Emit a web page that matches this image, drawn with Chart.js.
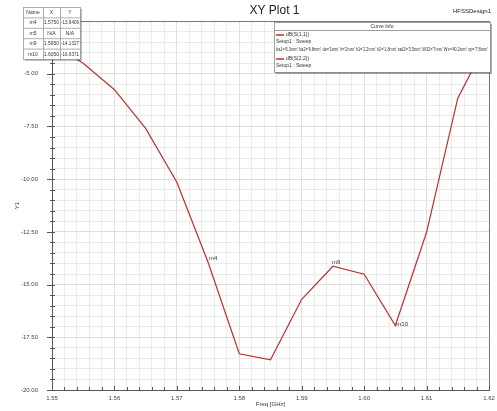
<!DOCTYPE html>
<html>
<head>
<meta charset="utf-8">
<script src="https://cdn.jsdelivr.net/npm/chart.js@4.4.1/dist/chart.umd.min.js"></script>
<style>
html,body{margin:0;padding:0;background:#fff;}
canvas{display:block;}
</style>
</head>
<body>
<canvas id="c" width="497" height="411"></canvas>
<script>
// ---- data ----
const freq = [1.550, 1.555, 1.560, 1.565, 1.570, 1.575, 1.580, 1.585, 1.590, 1.595, 1.600, 1.605, 1.610, 1.615, 1.620];
const s11 = [-3.6, -4.5, -5.76, -7.59, -10.15, -13.94, -18.28, -18.57, -15.70, -14.13, -14.51, -16.94, -12.52, -6.16, -3.3];
const xTickLabels = ['1.55','1.56','1.57','1.58','1.59','1.60','1.61','1.62'];
const yTickLabels = ['-20.00','-17.50','-15.00','-12.50','-10.00','-7.50','-5.00','-2.50'];
const markerNames = ['m4','m5','m9','m10'];
const markerXText = ['1.5750','N/A','1.5950','1.6050'];
const markerYText = ['-13.9406','N/A','-14.1327','-16.9371'];
const markerFreq = [1.575, null, 1.595, 1.605];
const markerVal = [-13.9406, null, -14.1327, -16.9371];
const curveNames = ['dB(S(1,1))','dB(S(2,2))'];
const setupText = 'Setup1 : Sweep';
const paramText = "ba1='6.3mm' ba2='6.8mm' da='1mm' h='2mm' h1='2.2mm' h2='1.8mm' rad2='3.5mm' W32='7mm' Wx='40.2mm' xp='7.8mm'";

const FONT = "'Liberation Sans Narrow','Arial Narrow','Liberation Sans',sans-serif";
const LINE = '#b8322f';

const isMajorX = v => { const k = (v - 1.55) / 0.01; return Math.abs(k - Math.round(k)) < 1e-4; };
const isMajorY = v => { const k = (v + 20) / 2.5; return Math.abs(k - Math.round(k)) < 1e-4; };

const overlay = {
  id: 'overlay',
  afterDraw(chart) {
    const ctx = chart.ctx, a = chart.chartArea;
    const xs = chart.scales.x, ys = chart.scales.y;
    ctx.save();
    // plot frame top/right
    ctx.strokeStyle = '#777'; ctx.lineWidth = 1;
    ctx.beginPath();
    ctx.moveTo(a.left, Math.round(a.top) + 0.5); ctx.lineTo(a.right, Math.round(a.top) + 0.5);
    ctx.moveTo(Math.round(a.right) + 0.5, a.top); ctx.lineTo(Math.round(a.right) + 0.5, a.bottom);
    ctx.stroke();

    // tick marks
    ctx.strokeStyle = '#555'; ctx.lineWidth = 1;
    ctx.beginPath();
    xs.ticks.forEach(t => {
      const px = Math.round(xs.getPixelForValue(t.value)) + 0.5;
      const len = isMajorX(t.value) ? 4 : 3;
      ctx.moveTo(px, a.bottom); ctx.lineTo(px, a.bottom - len);
    });
    ys.ticks.forEach(t => {
      const py = Math.round(ys.getPixelForValue(t.value)) + 0.5;
      if (isMajorY(t.value)) { ctx.moveTo(a.left - 5, py); ctx.lineTo(a.left + 3, py); }
      else { ctx.moveTo(a.left - 2, py); ctx.lineTo(a.left + 3, py); }
    });
    ctx.stroke();

    // titles
    ctx.fillStyle = '#222';
    ctx.font = '12px ' + FONT;
    ctx.textAlign = 'center'; ctx.textBaseline = 'middle';
    ctx.fillText('XY Plot 1', (a.left + a.right) / 2 + 4, 11);
    ctx.font = '6px ' + FONT;
    ctx.textAlign = 'right';
    ctx.fillText('HFSSDesign1', 491, 11);

    // marker labels
    ctx.font = '6px ' + FONT;
    ctx.fillStyle = '#333';
    markerNames.forEach((n, i) => {
      if (markerFreq[i] === null) return;
      const px = xs.getPixelForValue(markerFreq[i]);
      const py = ys.getPixelForValue(markerVal[i]);
      ctx.textAlign = 'left'; ctx.textBaseline = 'middle';
      if (n === 'm9') ctx.fillText(n, px - 1, py - 4);
      else if (n === 'm10') ctx.fillText(n, px + 1, py - 1);
      else ctx.fillText(n, px + 1, py - 4);
    });

    // marker table
    const tx = 23, ty = 7, tw = 57, rh = 10.4;
    const cols = [23, 43, 60, 80];
    const rows = markerNames.length + 1;
    ctx.fillStyle = 'rgba(0,0,0,0.25)';
    ctx.fillRect(tx + 2, ty + 2, tw, rows * rh);
    ctx.fillStyle = '#fff';
    ctx.fillRect(tx, ty, tw, rows * rh);
    ctx.strokeStyle = '#999'; ctx.lineWidth = 0.8;
    ctx.strokeRect(tx + 0.5, ty + 0.5, tw, rows * rh);
    ctx.beginPath();
    for (let r = 1; r < rows; r++) { ctx.moveTo(tx, ty + r * rh + 0.5); ctx.lineTo(tx + tw, ty + r * rh + 0.5); }
    for (let c = 1; c < 3; c++) { ctx.moveTo(cols[c] + 0.5, ty); ctx.lineTo(cols[c] + 0.5, ty + rows * rh); }
    ctx.stroke();
    ctx.fillStyle = '#333'; ctx.font = '5px ' + FONT; ctx.textAlign = 'center'; ctx.textBaseline = 'middle';
    const hdr = ['Name', 'X', 'Y'];
    hdr.forEach((h, c) => ctx.fillText(h, (cols[c] + cols[c + 1]) / 2, ty + rh / 2 + 0.5));
    markerNames.forEach((n, i) => {
      const cy = ty + (i + 1) * rh + rh / 2 + 0.5;
      ctx.fillText(n, (cols[0] + cols[1]) / 2, cy);
      ctx.fillText(markerXText[i], (cols[1] + cols[2]) / 2, cy, 16);
      ctx.fillText(markerYText[i], (cols[2] + cols[3]) / 2, cy, 18);
    });

    // curve info box
    const bx = 274, by = 22, bw = 216, bh = 50;
    ctx.fillStyle = 'rgba(0,0,0,0.3)';
    ctx.fillRect(bx + 2, by + 2, bw, bh);
    ctx.fillStyle = '#fff';
    ctx.fillRect(bx, by, bw, bh);
    ctx.strokeStyle = '#888'; ctx.lineWidth = 0.8;
    ctx.strokeRect(bx + 0.5, by + 0.5, bw, bh);
    ctx.beginPath(); ctx.moveTo(bx, by + 8.5); ctx.lineTo(bx + bw, by + 8.5); ctx.stroke();
    ctx.fillStyle = '#333'; ctx.font = '5px ' + FONT; ctx.textAlign = 'center';
    ctx.fillText('Curve Info', bx + bw / 2, by + 4.5);
    ctx.textAlign = 'left';
    const drawEntry = (name, y0) => {
      ctx.strokeStyle = LINE; ctx.lineWidth = 1.5;
      ctx.beginPath(); ctx.moveTo(bx + 2, y0); ctx.lineTo(bx + 10, y0); ctx.stroke();
      ctx.fillStyle = '#333';
      ctx.fillText(name, bx + 12, y0);
      ctx.fillText(setupText, bx + 2, y0 + 7);
    };
    drawEntry(curveNames[0], by + 13);
    ctx.fillText(paramText, bx + 2, by + 28, bw - 4);
    drawEntry(curveNames[1], by + 37);
    ctx.restore();
  }
};

new Chart(document.getElementById('c'), {
  type: 'line',
  data: {
    datasets: [{
      label: curveNames[0],
      data: freq.map((f, i) => ({ x: f, y: s11[i] })),
      borderColor: LINE,
      borderWidth: 1.2,
      pointRadius: 0,
      tension: 0,
      fill: false
    }]
  },
  options: {
    responsive: false,
    animation: false,
    devicePixelRatio: 1,
    layout: { padding: { top: 21, right: 8, left: 0, bottom: 0 } },
    plugins: { legend: { display: false }, tooltip: { enabled: false }, title: { display: false } },
    scales: {
      x: {
        type: 'linear', min: 1.55, max: 1.62,
        afterFit: s => { s.height = 21; s.paddingRight = 0; s.paddingLeft = 0; },
        ticks: {
          stepSize: 0.002, maxTicksLimit: 100, autoSkip: false, maxRotation: 0, minRotation: 0,
          padding: 5, color: '#444', font: { size: 6, family: FONT },
          callback: v => isMajorX(v) ? xTickLabels[Math.round((v - 1.55) / 0.01)] : ''
        },
        grid: { color: c => (c.tick && isMajorX(c.tick.value)) ? '#d6d6d6' : '#e6e6e6', lineWidth: 0.8, drawTicks: false },
        border: { color: '#555', width: 1 },
        title: { display: true, text: 'Freq [GHz]', color: '#333', font: { size: 6, family: FONT }, padding: { top: 0, bottom: 3 } }
      },
      y: {
        type: 'linear', min: -20, max: -2.5,
        afterFit: s => { s.width = 52; s.paddingTop = 0; s.paddingBottom = 0; },
        ticks: {
          stepSize: 0.5, maxTicksLimit: 100, autoSkip: false,
          padding: 14, color: '#444', font: { size: 6, family: FONT },
          callback: v => isMajorY(v) ? yTickLabels[Math.round((v + 20) / 2.5)] : ''
        },
        grid: { color: c => (c.tick && isMajorY(c.tick.value)) ? '#d6d6d6' : '#e6e6e6', lineWidth: 0.8, drawTicks: false },
        border: { color: '#555', width: 1 },
        title: { display: true, text: 'Y1', color: '#333', font: { size: 6, family: FONT }, padding: { top: 14, bottom: 0 } }
      }
    }
  },
  plugins: [overlay]
});
</script>
</body>
</html>
